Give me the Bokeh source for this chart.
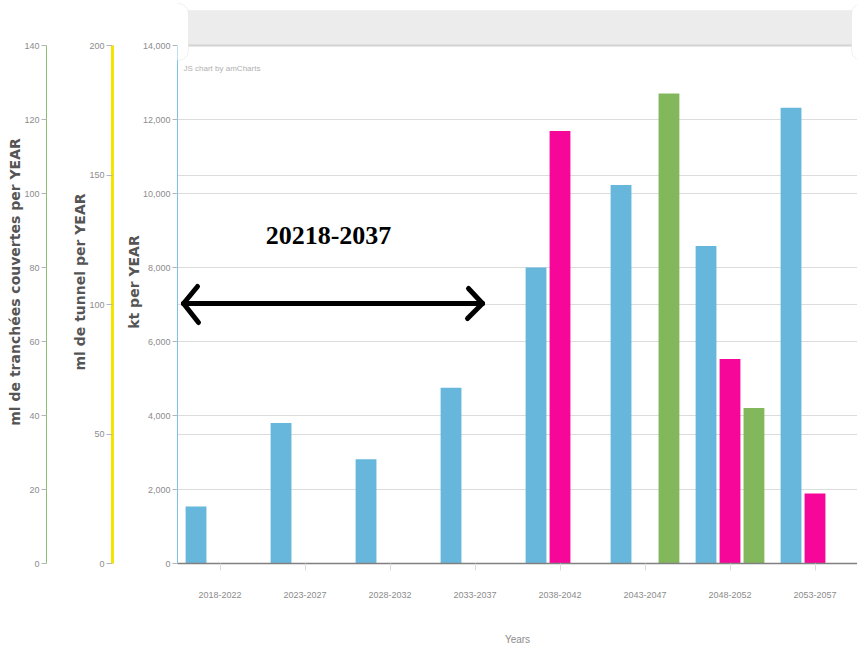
import numpy as np
from bokeh.plotting import figure
from bokeh.models import (FactorRange, Range1d, LinearAxis, Grid, SingleIntervalTicker,
                          NumeralTickFormatter, BoxAnnotation, Label, Arrow, Title,
                          ColumnDataSource)
from bokeh.transform import dodge
from bokeh.embed import file_html
from bokeh.resources import INLINE

# five-year periods on the category axis
categories = ["2018-2022", "2023-2027", "2028-2032", "2033-2037",
              "2038-2042", "2043-2047", "2048-2052", "2053-2057"]

# kt per year (inner left axis)
kt_per_year = [1540, 3800, 2820, 4750, 8000, 10230, 8580, 12320]
# metres of tunnel per year (yellow axis)
tunnel_ml_per_year = [np.nan, np.nan, np.nan, np.nan, 167, np.nan, 79, 27]
# metres of covered trench per year (green axis)
tranchees_ml_per_year = [np.nan, np.nan, np.nan, np.nan, np.nan, 127, 42, np.nan]

kt_axis_max = 14000
tunnel_axis_max = 200
tranchees_axis_max = 140

BLUE = "#67b7dc"
PINK = "#f7069a"
GREEN = "#82b75c"
TICK_FONT = "Liberation Sans"
LABEL_FONT = "DejaVu Sans"

W, H = 857, 652
BORDER_LEFT, BORDER_BOTTOM = 177, 89
AXIS_TOP = 45                      # room kept for the scrollbar strip
frame_h = H - BORDER_BOTTOM
axis_h = frame_h - AXIS_TOP
head = frame_h / axis_h            # stretch so every axis tops out at AXIS_TOP

src = ColumnDataSource(dict(cat=categories, kt=kt_per_year,
                            tunnel=tunnel_ml_per_year,
                            tranchees=tranchees_ml_per_year))

p = figure(width=W, height=H, x_range=FactorRange(*categories),
           y_range=Range1d(0, kt_axis_max * head), output_backend="svg",
           toolbar_location=None, min_border_left=BORDER_LEFT, min_border_right=0,
           min_border_top=0, min_border_bottom=BORDER_BOTTOM,
           background_fill_color="white", border_fill_color="white",
           outline_line_color=None)
p.extra_y_ranges = {"tunnel": Range1d(0, tunnel_axis_max * head),
                    "tranchees": Range1d(0, tranchees_axis_max * head)}


def style_y(ax, interval, top, line_color, line_width=1, fmt=None):
    ax.ticker = SingleIntervalTicker(interval=interval, num_minor_ticks=0)
    ax.bounds = (0, top)
    if fmt:
        ax.formatter = NumeralTickFormatter(format=fmt)
    ax.axis_line_color = line_color
    ax.axis_line_width = line_width
    ax.major_tick_line_color = "#b5b5b5"
    ax.major_tick_out = 5
    ax.major_tick_in = 0
    ax.minor_tick_out = 0
    ax.minor_tick_in = 0
    ax.major_label_text_font = TICK_FONT
    ax.major_label_text_font_size = "9px"
    ax.major_label_text_color = "#8c8c8c"
    ax.major_label_standoff = 2
    ax.axis_label_text_font = LABEL_FONT
    ax.axis_label_text_font_style = "bold"
    ax.axis_label_text_font_size = "14px"
    ax.axis_label_text_color = "#555555"
    ax.axis_label_standoff = -2


# inner axis: kt
kt_axis = p.yaxis[0]
style_y(kt_axis, 2000, kt_axis_max, "#7cc1e2", 1, "0,0")
kt_axis.axis_label = "kt per YEAR"

p.add_layout(Title(text=" ", text_font_size="1px", standoff=7), "left")

tunnel_axis = LinearAxis(y_range_name="tunnel", axis_label="ml de tunnel per YEAR")
style_y(tunnel_axis, 50, tunnel_axis_max, "#f5e400", 3)
tunnel_axis.major_tick_out = 6
p.add_layout(tunnel_axis, "left")

p.add_layout(Title(text=" ", text_font_size="1px", standoff=20), "left")

tranchees_axis = LinearAxis(y_range_name="tranchees",
                            axis_label="ml de tranchées couvertes per YEAR")
style_y(tranchees_axis, 20, tranchees_axis_max, "#8cbf6e", 1)
p.add_layout(tranchees_axis, "left")

# grids: kt steps plus tunnel steps
p.xgrid.visible = False
p.ygrid.grid_line_color = "#dcdcdc"
p.ygrid.ticker = kt_axis.ticker
p.add_layout(Grid(dimension=1, ticker=tunnel_axis.ticker, y_range_name="tunnel",
                  grid_line_color="#dcdcdc"))

# category axis
xa = p.xaxis[0]
xa.axis_line_color = "#808080"
xa.axis_line_width = 1.5
xa.major_tick_line_color = "#dadada"
xa.major_tick_out = 7
xa.major_tick_in = 0
xa.major_label_text_font = TICK_FONT
xa.major_label_text_font_size = "9px"
xa.major_label_text_color = "#8c8c8c"
xa.major_label_standoff = 21
xa.axis_label = "Years"
xa.axis_label_text_font = TICK_FONT
xa.axis_label_text_font_style = "normal"
xa.axis_label_text_font_size = "10px"
xa.axis_label_text_color = "#8c8c8c"
xa.axis_label_standoff = 33

# bars
p.vbar(x=dodge("cat", -0.282, range=p.x_range), top="kt", width=0.245,
       source=src, fill_color=BLUE, line_color=None)
p.vbar(x=dodge("cat", 0.0, range=p.x_range), top="tunnel", width=0.245,
       source=src, y_range_name="tunnel", fill_color=PINK, line_color=None)
p.vbar(x=dodge("cat", 0.282, range=p.x_range), top="tranchees", width=0.245,
       source=src, y_range_name="tranchees", fill_color=GREEN, line_color=None)


def canvas_box(l, r, t, b, **kw):
    return BoxAnnotation(left=l, right=r, top=t, bottom=b,
                         left_units="canvas", right_units="canvas",
                         top_units="canvas", bottom_units="canvas",
                         fill_alpha=1, **kw)


# scrollbar strip across the top
p.add_layout(canvas_box(182, 852, 10, 45, fill_color="#ececec", line_color="#e2e2e2"))
p.add_layout(canvas_box(182, 852, 44, 46, fill_color="#d2d2d2", line_color=None))
for gl, gr in [(167, 188), (851, 872)]:
    p.add_layout(canvas_box(gl, gr, 3, 60, fill_color="white",
                            line_color="#d0d0d0", line_width=1, border_radius=10))

p.add_layout(Label(x=183, y=68, x_units="canvas", y_units="canvas",
                   text="JS chart by amCharts", text_font=TICK_FONT,
                   text_font_size="8px", text_color="#b0b0b0",
                   text_baseline="middle"))

# period annotation with double-headed arrow
p.add_layout(Label(x=328, y=235, x_units="canvas", y_units="canvas",
                   text="20218-2037", text_font="Liberation Serif",
                   text_font_style="bold", text_font_size="26px",
                   text_color="black", text_align="center",
                   text_baseline="middle"))
for (xs, ys, xe, ye) in [(183, 303, 482, 303),
                         (183, 303, 197, 286), (183, 303, 198, 322),
                         (482, 303, 468, 288), (482, 303, 467, 318)]:
    p.add_layout(Arrow(x_start=xs, y_start=ys, x_end=xe, y_end=ye,
                       start_units="canvas", end_units="canvas",
                       start=None, end=None, line_width=5,
                       line_color="black", line_cap="round"))

open("out.html", "w").write(file_html(p, INLINE))
